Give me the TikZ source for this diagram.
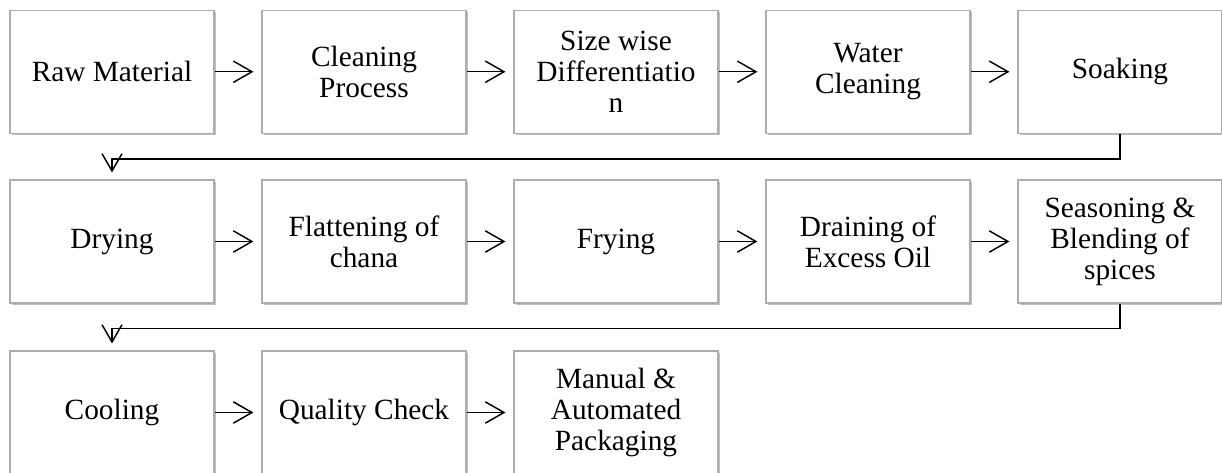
\documentclass[tikz,border=0pt]{standalone}
\usepackage{fontspec}
\setmainfont{Liberation Serif}
\usetikzlibrary{arrows.meta,shadows,calc}
\begin{document}
\begin{tikzpicture}[x=0.75pt,y=-0.75pt,
  stepbox/.style={draw=black!32, line width=0.8pt, fill=white,
    minimum width=153pt, minimum height=92.25pt, inner sep=2pt,
    align=center, font=\fontsize{22pt}{23.2pt}\selectfont,
    drop shadow={shadow xshift=1.2pt, shadow yshift=-1.6pt, fill=black!45, opacity=0.55}},
  arr/.style={line width=1.1pt, -{Straight Barb[length=14pt,width=16pt,line width=1.1pt]}},
  turn/.style={line width=1.4pt, -{Straight Barb[length=13pt,width=15pt,line width=1.1pt]}}]
\useasboundingbox (0,0) rectangle (1222,472);
% row 1
\node[stepbox] (b1) at (112,71.75) {Raw Material};
\node[stepbox] (b2) at (364,71.75) {Cleaning\\Process};
\node[stepbox] (b3) at (616,71.75) {Size wise\\Differentiatio\\n};
\node[stepbox] (b4) at (868,71.75) {Water\\Cleaning};
\node[stepbox] (b5) at (1120,71.75) {Soaking};
% row 2
\node[stepbox] (b6) at (112,241.5) {Drying};
\node[stepbox] (b7) at (364,241.5) {Flattening of\\chana};
\node[stepbox] (b8) at (616,241.5) {Frying};
\node[stepbox] (b9) at (868,241.5) {Draining of\\Excess Oil};
\node[stepbox] (b10) at (1120,241.5) {Seasoning \&\\Blending of\\spices};
% row 3
\node[stepbox] (b11) at (112,412.5) {Cooling};
\node[stepbox] (b12) at (364,412.5) {Quality Check};
\node[stepbox] (b13) at (616,412.5) {Manual \&\\Automated\\Packaging};
% connectors
\foreach \a/\b in {b1/b2,b2/b3,b3/b4,b4/b5,b6/b7,b7/b8,b8/b9,b9/b10,b11/b12,b12/b13}
  \draw[arr, shorten >=6pt] (\a.east) -- (\b.west);
\draw[turn, shorten >=5.25pt] (b5.south) -- ++(0,25) -| (b6.north);
\draw[turn, shorten >=5.25pt] (b10.south) -- ++(0,25) -| (b11.north);
\end{tikzpicture}
\end{document}
